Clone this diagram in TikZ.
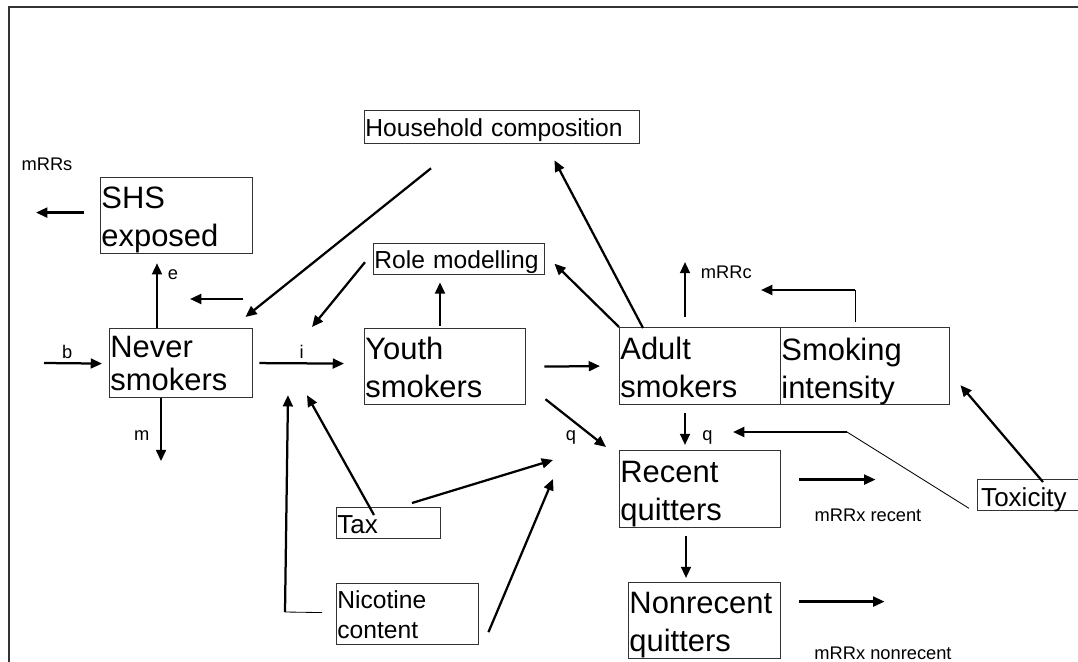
\documentclass[tikz,border=0pt]{standalone}
\usepackage{fontspec}
\setmainfont{Liberation Sans}
\usetikzlibrary{arrows.meta}
\tikzset{>={Triangle[length=8pt,width=7pt]}}
\usetikzlibrary{calc}
\colorlet{boxgray}{black!80}

\begin{document}
\begin{tikzpicture}[x=0.025cm,y=-0.025cm,
    arrow/.style={->,line width=1.6pt},
    thinline/.style={line width=0.6pt},
    box/.style={draw=boxgray,line width=1pt,anchor=north west,align=left,inner xsep=0.5pt,inner ysep=0pt},
    big/.style={box,font=\fontsize{22}{27}\selectfont},
    mid/.style={box,font=\fontsize{17.5}{21.3}\selectfont},
    lbl/.style={font=\fontsize{13}{15}\selectfont,inner sep=1.5pt}]

    \useasboundingbox (0,0) rectangle (1078,662);
    \draw[boxgray,line width=1pt] (9,700) -- (9,7) -- (1100,7);

    \node[big,text width=3.765cm,text height=22pt,text depth=31.9pt] (shs) at (100,177) {SHS\\exposed};
    \node[big,text width=3.54cm,text height=20.3pt,text depth=28.6pt,font=\fontsize{22}{23.5}\selectfont] (never) at (109,328) {Never\\smokers};
    \node[mid,text width=6.84cm,text height=18.4pt,text depth=5pt] (house) at (364,110) {Household composition};
    \node[mid,text width=4.24cm,text height=17.7pt,text depth=4.3pt] (role) at (373,243) {Role modelling};
    \node[big,text width=3.99cm,text height=22pt,text depth=31.9pt] (youth) at (364,328) {Youth\\smokers};
    \node[mid,text width=2.565cm,text height=18pt,text depth=4pt,font=\fontsize{18.5}{22}\selectfont] (tax) at (336,507) {Tax};
    \node[mid,text width=3.515cm,text height=17.7pt,text depth=25.5pt] (nic) at (336,583) {Nicotine\\content};
    \node[big,text width=3.99cm,text height=22.7pt,text depth=31.9pt] (adult) at (619,327) {Adult\\smokers};
    \node[big,text width=4.19cm,text height=23.4pt,text depth=31.2pt] (intens) at (780,327) {Smoking\\intensity};
    \node[big,text width=3.99cm,text height=22.7pt,text depth=31.9pt] (recent) at (619,450) {Recent\\quitters};
    \node[big,text width=3.765cm,text height=22pt,text depth=31.9pt] (nonrec) at (628,582) {Nonrecent\\quitters};
    \node[mid,text width=2.965cm,text height=19.1pt,text depth=2.9pt,font=\fontsize{18.5}{22}\selectfont] (tox) at (977,479) {\hspace{2pt}Toxicity};

    \node[lbl] (mrrs) at (47,164) {mRRs};
    \node[lbl] (mrrxr) at (868,515) {mRRx recent};
    \node[lbl] (mrrxn) at (883,653) {mRRx nonrecent};

    \coordinate (bIn) at (44,363);
    \coordinate (hhTail) at (243,299);
    \coordinate (hhHead) at (190,299);
    \coordinate (qTax) at (553,460);
    \coordinate (qNic) at (553,479);
    \coordinate (nicCorner) at (285,612);
    \coordinate (toxCorner) at (847,432);

    \draw[arrow] ($(shs.west)+(-16,-3)$) -- ++(-48,0);
    \draw[arrow] (bIn) -- ($(never.west)+(-7,0.5)$) node[lbl,above=1pt,pos=0.4] {b};
    \draw[arrow] ($(never.north west)+(48,0)$) -- ($(shs.south west)+(57,9)$) node[lbl,right=5.5pt,pos=0.83] {e};
    \draw[arrow] ($(never.south west)+(52,0)$) -- ++(0,63) node[lbl,left=6pt,pos=0.6] {m};
    \draw[arrow] (hhTail) -- (hhHead);
    \draw[arrow] ($(house.south west)+(67,24)$) -- ($(never.north east)+(-8,-11)$);
    \draw[arrow] ($(role.west)+(-8,3)$) -- ($(youth.north west)+(-52,-1)$);
    \draw[arrow] ($(never.east)+(6,0)$) -- ($(youth.west)+(-20,-3)$) node[lbl,above=1pt,midway] {i};
    \draw[arrow] ($(youth.north west)+(76,-2)$) -- ($(role.south west)+(67,7)$);
    \draw[arrow] ($(youth.east)+(18,0)$) -- ($(adult.west)+(-19,0)$);
    \draw[arrow] ($(youth.south east)+(19,-6)$) -- ($(recent.north west)+(-13,-3)$) node[lbl,below=6pt,pos=0.42] {q};
    \draw[arrow] ($(tax.north west)+(38,8)$) -- ($(youth.south west)+(-57,-10)$);
    \draw[arrow] ($(tax.north west)+(76,-4)$) -- (qTax);
    \draw[thinline] ($(nic.west)+(-14,-1.5)$) -- (nicCorner);
    \draw[arrow] (nicCorner) -- ($(youth.south west)+(-76,-10)$);
    \draw[arrow] ($(nic.south east)+(9,-13)$) -- (qNic);
    \draw[arrow] ($(adult.north west)+(24,1)$) -- ($(house.south east)+(-86,16)$);
    \draw[arrow] (adult.north west) -- ($(role.east)+(9,4.5)$);
    \draw[arrow] ($(adult.north west)+(66,-10)$) -- ++(0,-55) node[lbl,right=9pt,pos=0.81] {mRRc};
    \draw[thinline] ($(intens.north west)+(75,-5)$) -- ++(0,-32) coordinate (intCorner);
    \draw[arrow] (intCorner) -- ++(-94,0);
    \draw[arrow] ($(tox.north west)+(66,3)$) -- ($(intens.south east)+(10,-20)$);
    \draw[arrow] ($(adult.south west)+(66,8)$) -- ($(recent.north west)+(66,-5)$) node[lbl,right=10pt,pos=0.77] {q};
    \draw[thinline] ($(tox.south west)+(-8,-3)$) -- (toxCorner);
    \draw[arrow] (toxCorner) -- ++(-114,0);
    \draw[arrow] ($(recent.east)+(18,-9.5)$) -- ++(76,0);
    \draw[arrow] ($(recent.south west)+(67,8)$) -- ($(nonrec.north west)+(58,-4)$);
    \draw[arrow] ($(nonrec.east)+(18,-19)$) -- ++(85,0);

\end{tikzpicture}
\end{document}
